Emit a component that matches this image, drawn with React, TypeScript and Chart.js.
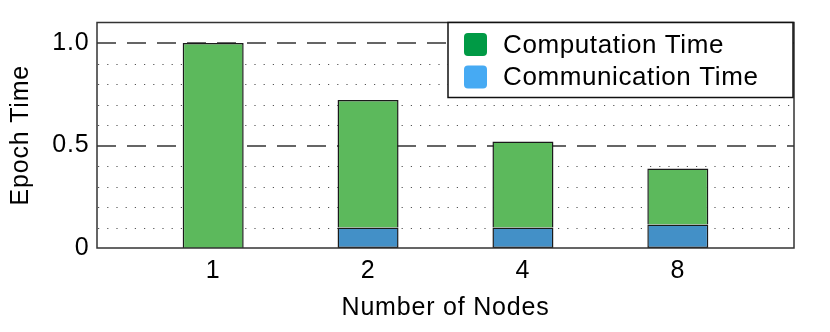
import React, { useEffect, useRef } from "react";
import { Chart, registerables } from "chart.js";

Chart.register(...registerables);

const categories = ["1", "2", "4", "8"];
const communicationTime = [0, 0.1, 0.1, 0.115];
const computationTime = [1.0, 0.622, 0.42, 0.273];
const yTickValues = [0, 0.5, 1.0];
const yTickLabels = ["0", "0.5", "1.0"];
const dashedGridValues = [0.5, 1.0];
const dottedGridValues = [0.1, 0.2, 0.3, 0.4, 0.6, 0.7, 0.8, 0.9];
const seriesLabels = ["Computation Time", "Communication Time"];

const BAR_GREEN = "#5cb95c";
const BAR_BLUE = "#4390c7";
const LEGEND_GREEN = "#009a45";
const LEGEND_BLUE = "#46aaf3";
const FONT = "'Liberation Sans', Arial, Helvetica, sans-serif";
const SPACING = "0.8px";

const spacingPlugin = {
  id: "letterSpacing",
  beforeDraw(chart: any) {
    (chart.ctx as any).letterSpacing = SPACING;
  },
};

const gridPlugin = {
  id: "customGrid",
  beforeDatasetsDraw(chart: any) {
    const { ctx, chartArea } = chart;
    const y = chart.scales.y;
    ctx.save();
    ctx.strokeStyle = "#555";
    ctx.lineWidth = 1;
    ctx.setLineDash([1.2, 8]);
    ctx.lineDashOffset = -1;
    for (const v of dottedGridValues) {
      const py = Math.round(y.getPixelForValue(v)) + 0.5;
      ctx.beginPath();
      ctx.moveTo(chartArea.left, py);
      ctx.lineTo(chartArea.right, py);
      ctx.stroke();
    }
    ctx.strokeStyle = "#333";
    ctx.lineWidth = 1.4;
    ctx.setLineDash([19, 11]);
    ctx.lineDashOffset = 0;
    for (const v of dashedGridValues) {
      const py = Math.round(y.getPixelForValue(v));
      ctx.beginPath();
      ctx.moveTo(chartArea.left, py);
      ctx.lineTo(chartArea.right, py);
      ctx.stroke();
    }
    ctx.restore();
  },
  afterDatasetsDraw(chart: any) {
    const { ctx, chartArea } = chart;
    ctx.save();
    ctx.strokeStyle = "#333";
    ctx.lineWidth = 1.5;
    ctx.setLineDash([]);
    ctx.strokeRect(
      chartArea.left,
      chartArea.top,
      chartArea.right - chartArea.left,
      chartArea.bottom - chartArea.top
    );
    ctx.restore();
  },
};

const legendPlugin = {
  id: "boxLegend",
  afterDraw(chart: any) {
    const { ctx, chartArea } = chart;
    const w = 345;
    const h = 75;
    const x0 = chartArea.right - w - 1;
    const y0 = chartArea.top;
    ctx.save();
    ctx.fillStyle = "#fff";
    ctx.fillRect(x0, y0, w, h);
    ctx.strokeStyle = "#111";
    ctx.lineWidth = 1.5;
    ctx.strokeRect(x0, y0, w, h);
    const colors = [LEGEND_GREEN, LEGEND_BLUE];
    seriesLabels.forEach((label, i) => {
      const cy = y0 + 22 + i * 32.5;
      const sx = x0 + 16;
      const size = 23;
      ctx.fillStyle = colors[i];
      ctx.beginPath();
      if ((ctx as any).roundRect) {
        (ctx as any).roundRect(sx, cy - size / 2, size, size, 4);
      } else {
        ctx.rect(sx, cy - size / 2, size, size);
      }
      ctx.fill();
      ctx.fillStyle = "#000";
      ctx.font = `26px ${FONT}`;
      (ctx as any).letterSpacing = "0.6px";
      ctx.textBaseline = "middle";
      ctx.textAlign = "left";
      ctx.fillText(label, x0 + 55, cy + 1);
    });
    ctx.restore();
  },
};

export default function App() {
  const canvasRef = useRef<HTMLCanvasElement | null>(null);

  useEffect(() => {
    if (!canvasRef.current) return;
    const chart = new Chart(canvasRef.current, {
      type: "bar",
      data: {
        datasets: [
          {
            label: seriesLabels[1],
            data: communicationTime.map((v, i) => ({ x: i + 1, y: v })),
            backgroundColor: BAR_BLUE,
            borderColor: "#1a1a1a",
            borderWidth: 1.5,
            borderSkipped: false,
            barPercentage: 0.394,
            categoryPercentage: 1,
          },
          {
            label: seriesLabels[0],
            data: computationTime.map((v, i) => ({ x: i + 1, y: v })),
            backgroundColor: BAR_GREEN,
            borderColor: "#1a1a1a",
            borderWidth: 1.5,
            borderSkipped: "bottom",
            barPercentage: 0.394,
            categoryPercentage: 1,
          },
        ],
      },
      options: {
        animation: false,
        responsive: false,
        devicePixelRatio: 1,
        layout: { padding: { left: 0, top: 22, right: 36, bottom: 0 } },
        plugins: {
          legend: { display: false },
          tooltip: { enabled: false },
        },
        scales: {
          x: {
            type: "linear",
            stacked: true,
            offset: false,
            min: 0.25,
            max: 4.75,
            grid: { display: false, drawTicks: false, offset: false },
            border: { display: false },
            afterBuildTicks: (scale: any) => {
              scale.ticks = categories.map((_, i) => ({ value: i + 1 }));
            },
            afterFit: (scale: any) => {
              scale.height = 84;
            },
            ticks: {
              padding: 8,
              color: "#000",
              font: { family: FONT, size: 25 },
              callback: (value: any) => categories[Math.round(value) - 1] ?? "",
            },
            title: {
              display: true,
              text: "Number of Nodes",
              color: "#000",
              font: { family: FONT, size: 25 },
              padding: { top: 0, bottom: 8.5 },
            },
          },
          y: {
            stacked: true,
            min: 0,
            max: 1.1,
            grid: { display: false, drawTicks: false },
            border: { display: false },
            afterBuildTicks: (scale: any) => {
              scale.ticks = yTickValues.map((v) => ({ value: v }));
            },
            afterFit: (scale: any) => {
              scale.width = 97;
            },
            ticks: {
              padding: 7.5,
              color: "#000",
              font: { family: FONT, size: 25 },
              callback: (value: any) => {
                const idx = yTickValues.findIndex((v) => Math.abs(v - value) < 1e-6);
                return idx >= 0 ? yTickLabels[idx] : "";
              },
            },
            title: {
              display: true,
              text: "Epoch Time",
              color: "#000",
              font: { family: FONT, size: 25 },
              padding: { top: 6, bottom: 0 },
            },
          },
        },
      },
      plugins: [spacingPlugin, gridPlugin, legendPlugin],
    });
    return () => chart.destroy();
  }, []);

  return (
    <div style={{ position: "absolute", left: 0, top: 0, width: 830, height: 332, background: "#fff" }}>
      <canvas ref={canvasRef} width={830} height={332} style={{ width: 830, height: 332 }} />
    </div>
  );
}
